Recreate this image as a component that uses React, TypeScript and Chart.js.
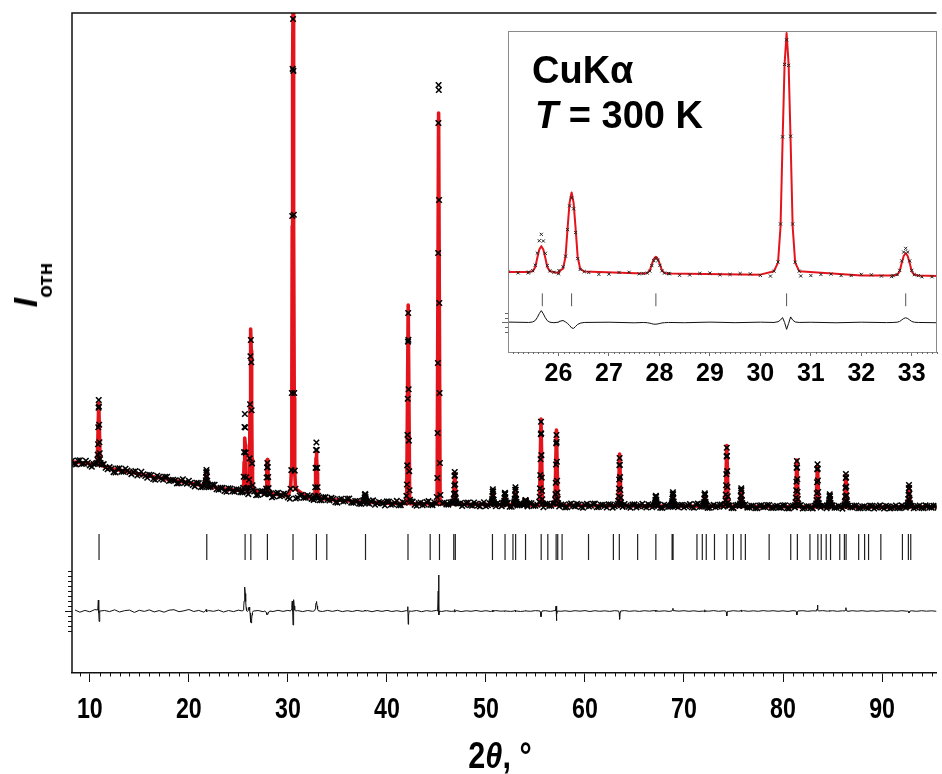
import React, { useEffect, useRef } from "react";
import { Chart, registerables } from "chart.js";

Chart.register(...registerables);

const SANS = "'Liberation Sans', Arial, Helvetica, sans-serif";

// ---------- axes ----------
const X_MIN = 8.2;
const X_MAX = 95.5;
const X_TICKS = [10, 20, 30, 40, 50, 60, 70, 80, 90];
const Y_MIN = 0;
const Y_MAX = 6600;
const INSET_X_MIN = 25;
const INSET_X_MAX = 33.5;
const INSET_TICKS = [26, 27, 28, 29, 30, 31, 32, 33];
const INSET_Y_MIN = 200;
const INSET_Y_MAX = 6720;

// ---------- observed background, two interleaved scans ----------
// OBS_BG at 2θ = 8.2 + 0.4·i, OBS_BG_MID at 2θ = 8.4 + 0.4·i
const OBS_STEP = 0.4;
const OBS_START = 8.2;
const OBS_BG = [
  2122, 2086, 2127, 2093, 2102, 2062, 2094, 2059, 2089, 2037,
  2045, 2005, 2047, 2013, 2024, 1989, 2020, 1987, 1988, 1953,
  1980, 1932, 1961, 1933, 1962, 1926, 1926, 1899, 1938, 1894,
  1901, 1866, 1899, 1861, 1879, 1860, 1882, 1832, 1851, 1813,
  1844, 1814, 1835, 1806, 1807, 1778, 1815, 1781, 1820, 1781,
  1788, 1765, 1802, 1775, 1788, 1742, 1777, 1753, 1782, 1752,
  1768, 1731, 1754, 1728, 1759, 1725, 1743, 1704, 1743, 1720,
  1745, 1703, 1720, 1691, 1717, 1694, 1726, 1697, 1703, 1675,
  1714, 1687, 1721, 1679, 1703, 1693, 1714, 1673, 1705, 1685,
  1719, 1679, 1696, 1674, 1705, 1684, 1710, 1667, 1698, 1684,
  1705, 1672, 1691, 1666, 1708, 1678, 1696, 1668, 1685, 1672,
  1703, 1663, 1689, 1678, 1695, 1666, 1698, 1672, 1685, 1658,
  1691, 1673, 1699, 1665, 1680, 1659, 1695, 1666, 1685, 1653,
  1691, 1673, 1694, 1660, 1681, 1655, 1685, 1667, 1690, 1661,
  1675, 1652, 1686, 1668, 1692, 1655, 1679, 1662, 1686, 1651,
  1675, 1663, 1688, 1657, 1681, 1667, 1689, 1652, 1694, 1663,
  1677, 1653, 1681, 1666, 1685, 1655, 1673, 1649, 1681, 1661,
  1685, 1656, 1672, 1649, 1677, 1660, 1680, 1651, 1671, 1654,
  1678, 1646, 1672, 1659, 1680, 1650, 1667, 1646, 1674, 1655,
  1670, 1647, 1678, 1653, 1664, 1644, 1672, 1655, 1675, 1649,
  1667, 1647, 1671, 1656, 1676, 1645, 1666, 1651, 1675, 1649,
  1664, 1644, 1671, 1656, 1675, 1648, 1670, 1652, 1674,
];
const OBS_MID_START = 8.4;
const OBS_BG_MID = [
  2091, 2125, 2091, 2122, 2076, 2089, 2051, 2084, 2053, 2059,
  2009, 2045, 2014, 2042, 2008, 2011, 1975, 2013, 1970, 1983,
  1940, 1972, 1942, 1961, 1920, 1932, 1896, 1925, 1904, 1923,
  1880, 1901, 1858, 1879, 1858, 1884, 1837, 1852, 1820, 1848,
  1817, 1838, 1807, 1829, 1789, 1804, 1777, 1816, 1787, 1796,
  1758, 1797, 1769, 1794, 1756, 1771, 1745, 1775, 1753, 1778,
  1741, 1757, 1727, 1757, 1733, 1751, 1708, 1735, 1715, 1742,
  1704, 1720, 1694, 1726, 1701, 1717, 1683, 1710, 1696, 1716,
  1682, 1703, 1677, 1710, 1688, 1715, 1682, 1698, 1677, 1710,
  1683, 1705, 1671, 1699, 1685, 1706, 1676, 1692, 1670, 1702,
  1679, 1705, 1675, 1691, 1668, 1696, 1680, 1701, 1669, 1689,
  1663, 1696, 1675, 1691, 1664, 1700, 1671, 1683, 1661, 1691,
  1671, 1694, 1664, 1684, 1656, 1687, 1671, 1691, 1660, 1681,
  1665, 1693, 1657, 1683, 1670, 1688, 1654, 1678, 1660, 1690,
  1664, 1684, 1656, 1678, 1666, 1688, 1657, 1675, 1652, 1683,
  1661, 1686, 1666, 1680, 1655, 1677, 1658, 1688, 1663, 1680,
  1651, 1673, 1658, 1683, 1664, 1678, 1651, 1676, 1659, 1680,
  1654, 1671, 1647, 1675, 1659, 1680, 1651, 1667, 1654, 1676,
  1648, 1670, 1656, 1676, 1645, 1667, 1651, 1673, 1657, 1676,
  1648, 1667, 1652, 1671, 1644, 1669, 1657, 1673, 1648, 1665,
  1652, 1674, 1645, 1667, 1655, 1672, 1646, 1664, 1651, 1676,
  1654, 1670, 1648, 1668, 1651, 1676, 1656, 1672, 1653,
];

// ---------- calculated background (2θ = 8 + 2·i) ----------
const CALC_START = 8;
const CALC_STEP = 2;
const CALC_BG = [
  2115, 2092, 2048, 2010, 1970, 1935, 1900, 1865, 1835, 1802,
  1786, 1771, 1753, 1736, 1722, 1707, 1698, 1695, 1693, 1690,
  1688, 1685, 1682, 1680, 1678, 1676, 1675, 1673, 1672, 1671,
  1670, 1670, 1668, 1667, 1666, 1664, 1663, 1662, 1661, 1660,
  1660, 1660, 1661, 1662, 1662,
];

// ---------- peaks shown in the inset (finely sampled) ----------
const FINE_POS = [25.66, 26.26, 27.93, 30.52, 32.88];
const FINE_OFFSETS = [-0.25, -0.17, -0.12, -0.08, -0.04, 0, 0.04, 0.08, 0.12, 0.17, 0.25];
const FINE_CALC = [
  [1823, 1842, 1922, 2109, 2280, 2350, 2280, 2109, 1922, 1842, 1823],
  [1834, 1892, 2136, 2707, 3228, 3440, 3228, 2707, 2136, 1892, 1834],
  [1795, 1807, 1859, 1980, 2090, 2135, 2090, 1980, 1859, 1807, 1795],
  [1842, 2014, 2750, 4470, 6041, 6680, 6041, 4470, 2750, 2014, 1842],
  [1752, 1768, 1838, 2001, 2150, 2210, 2150, 2001, 1838, 1768, 1752],
];
const FINE_OBS = [
  [1823, 1852, 1962, 2209, 2460, 2590, 2455, 2204, 1957, 1847, 1818],
  [1854, 1932, 2146, 2687, 3168, 3330, 3108, 2627, 2096, 1877, 1834],
  [1795, 1802, 1844, 1955, 2055, 2100, 2060, 1960, 1849, 1802, 1795],
  [1842, 2029, 2800, 4570, 6041, 6540, 6021, 4583, 2800, 2024, 1842],
  [1752, 1773, 1858, 2051, 2230, 2305, 2230, 2051, 1858, 1773, 1752],
];

// ---------- other peaks (main plot only) ----------
const COARSE_POS = [
  10.9, 21.78, 37.8, 42.15, 45.22, 46.85, 50.7, 51.92, 52.98, 54.0, 55.56, 57.12,
  63.5, 67.16, 68.88, 72.1, 74.32, 75.78, 81.4, 83.48, 84.72, 86.35, 92.72,
];
const COARSE_OBS_OFFSETS = [-0.18, -0.13, -0.1, -0.07, -0.045, -0.02, 0, 0.02, 0.045, 0.07, 0.1, 0.13, 0.18];
const COARSE_OBS = [
  [2100, 2132, 2184, 2288, 2457, 2652, 2730, 2665, 2483, 2308, 2197, 2139, 2100],
  [1876, 1886, 1902, 1928, 1958, 2006, 2030, 2008, 1966, 1923, 1897, 1881, 1873],
  [1710, 1715, 1721, 1734, 1756, 1780, 1790, 1782, 1759, 1737, 1723, 1715, 1710],
  [1771, 1885, 2076, 2381, 2743, 3314, 3600, 3333, 2838, 2324, 2019, 1828, 1733],
  [1760, 1950, 2400, 3100, 4200, 5500, 5880, 5830, 4730, 3700, 2800, 2100, 1780],
  [1699, 1715, 1740, 1791, 1875, 1971, 2010, 1977, 1887, 1801, 1747, 1718, 1699],
  [1690, 1699, 1715, 1739, 1768, 1814, 1837, 1816, 1776, 1734, 1710, 1695, 1687],
  [1687, 1693, 1702, 1721, 1753, 1789, 1803, 1791, 1757, 1725, 1705, 1694, 1687],
  [1688, 1699, 1716, 1744, 1778, 1831, 1857, 1832, 1787, 1739, 1711, 1693, 1685],
  [1682, 1684, 1688, 1696, 1709, 1724, 1730, 1725, 1711, 1698, 1689, 1685, 1682],
  [1712, 1762, 1846, 1979, 2138, 2388, 2513, 2396, 2179, 1954, 1821, 1737, 1696],
  [1698, 1733, 1789, 1902, 2085, 2296, 2380, 2310, 2113, 1923, 1804, 1740, 1698],
  [1692, 1721, 1768, 1845, 1935, 2078, 2150, 2083, 1959, 1830, 1754, 1706, 1683],
  [1674, 1679, 1687, 1704, 1730, 1761, 1773, 1763, 1734, 1707, 1689, 1680, 1674],
  [1675, 1684, 1697, 1719, 1745, 1786, 1807, 1788, 1752, 1715, 1693, 1680, 1673],
  [1672, 1678, 1689, 1709, 1743, 1782, 1797, 1784, 1748, 1713, 1691, 1680, 1672],
  [1690, 1726, 1784, 1878, 1989, 2165, 2253, 2171, 2019, 1860, 1767, 1708, 1679],
  [1671, 1680, 1695, 1724, 1771, 1825, 1847, 1829, 1778, 1729, 1699, 1682, 1671],
  [1680, 1708, 1754, 1827, 1914, 2051, 2120, 2056, 1937, 1813, 1740, 1694, 1671],
  [1674, 1695, 1729, 1797, 1908, 2036, 2087, 2044, 1925, 1810, 1738, 1699, 1674],
  [1666, 1674, 1686, 1706, 1730, 1768, 1787, 1769, 1737, 1703, 1682, 1670, 1664],
  [1670, 1686, 1713, 1766, 1851, 1950, 1990, 1957, 1865, 1776, 1719, 1690, 1670],
  [1670, 1683, 1705, 1740, 1781, 1847, 1880, 1849, 1792, 1733, 1698, 1676, 1665],
];
const COARSE_CALC_OFFSETS = [-0.15, 0, 0.15];
const COARSE_CALC = [
  [2085, 2700, 2080], [1870, 2020, 1868], [1708, 1785, 1707], [1696, 3680, 1694],
  [1693, 5600, 1691], [1690, 2000, 1689], [1684, 1832, 1684], [1683, 1798, 1683],
  [1681, 1850, 1681], [1680, 1728, 1680], [1679, 2540, 1679], [1677, 2430, 1677],
  [1673, 2190, 1673], [1671, 1770, 1671], [1670, 1800, 1670], [1668, 1792, 1668],
  [1667, 2275, 1667], [1666, 1842, 1666], [1662, 2130, 1662], [1661, 2075, 1661],
  [1661, 1782, 1661], [1660, 1985, 1660], [1661, 1875, 1661],
];

// ---------- difference curve ----------
const DIFF_START = 8.5;
const DIFF_STEP = 0.5;
const DIFF_BG = [
  10, -12, 6, -8, 14, -15, 5, -6, 12, -10,
  3, 9, -14, 7, -4, 11, -9, 4, -12, 8,
  13, -7, 2, 15, -5, 6, -11, 4, -3, 9,
  -10, 5, -6, 8, -4, 6, -9, 5, -7, 3,
  -5, 7, -4, 6, -8, 4, -6, 5, -3, 4,
  -5, 6, -4, 7, -6, 3, -5, 6, -3, 4,
  -7, 5, -4, 6, -5, 3, -6, 4, -3, 5,
  -7, 4, -3, 6, -5, 3, -4, 5, -6, 2,
  -3, 5, -4, 3, -5, 4, -2, 5, -4, 3,
  -5, 2, -3, 4, -6, 3, -4, 5, -3, 2,
  -4, 3, -2, 4, -5, 3, -3, 2, -4, 3,
  -2, 4, -3, 2, -4, 3, -2, 4, -3, 2,
  -4, 3, -2, 3, -3, 2, -4, 3, -2, 4,
  -3, 2, -4, 3, -2, 3, -3, 2, -3, 4,
  -2, 3, -3, 2, -4, 3, -2, 3, -3, 2,
  -3, 4, -2, 3, -3, 2, -4, 3, -2, 3,
  -3, 2, -3, 3, -2, 2, -3, 3, -2, 2,
  -3, 3, -2, 2, -3,
];
const COARSE_DIFF_OFFSETS = [-0.1, -0.04, 0, 0.04, 0.1];
const COARSE_DIFF = [
  [10, 110, -20, -105, 0], [0, 15, -10, 5, 0], [0, 5, 10, 0, 0], [0, 43, -133, -40, 0],
  [0, 200, 360, -40, 0], [0, -10, 15, -5, 0], [0, 5, -8, 4, 0], [0, -5, 6, 0, 0],
  [0, 8, -10, 5, 0], [0, 0, 5, 0, 0], [0, -20, -57, -10, 0], [0, 50, -97, -30, 0],
  [0, -20, -83, -15, 0], [0, 5, -5, 3, 0], [0, 10, 27, 5, 0], [0, -8, 12, -5, 0],
  [0, -15, -50, -10, 0], [0, 5, 8, -4, 0], [0, -10, -40, -5, 0], [0, 20, 60, 10, 0],
  [0, -4, 6, 0, 0], [0, 10, 33, 5, 0], [0, -5, -20, -5, 0],
];
const DIFF_OFFSET_MAIN = 620;
const DIFF_OFFSET_INSET = 800;

// ---------- Bragg reflections ----------
const BRAGG = [
  10.93, 21.81, 25.68, 26.26, 27.93, 30.52, 32.88, 33.93, 37.84, 42.13, 44.37, 45.31,
  46.75, 46.91, 50.66, 51.93, 52.73, 53.0, 54.0, 55.58, 56.25, 57.09, 57.25, 57.69,
  60.36, 62.87, 63.47, 65.32, 67.16, 68.8, 68.9, 71.31, 71.85, 72.25, 73.08, 74.33,
  74.99, 75.76, 76.2, 78.6, 80.78, 81.45, 82.72, 83.52, 83.86, 84.36, 84.8, 85.73,
  86.2, 86.37, 87.64, 88.24, 88.64, 89.88, 92.06, 92.66, 92.9,
];
const BRAGG_LOW = 1130;
const BRAGG_HIGH = 1390;

// ---------- assembling ----------
type P = { x: number; y: number | null };
const FINE_HALF = 0.26;
const COARSE_HALF = 0.19;
const COARSE_DIFF_HALF = 0.11;

function outside(x: number, fineHalf: number, coarseHalf: number) {
  return FINE_POS.every((c) => Math.abs(x - c) >= fineHalf) && COARSE_POS.every((c) => Math.abs(x - c) >= coarseHalf);
}
const byX = (a: P, b: P) => a.x - b.x;

function buildObs(): P[] {
  const pts: P[] = [];
  const addScan = (start: number, values: number[]) =>
    values.forEach((v, i) => {
      const x = +(start + i * OBS_STEP).toFixed(3);
      if (outside(x, FINE_HALF, COARSE_HALF)) pts.push({ x, y: v });
    });
  addScan(OBS_START, OBS_BG);
  addScan(OBS_MID_START, OBS_BG_MID);
  FINE_POS.forEach((c, k) => FINE_OFFSETS.forEach((o, j) => pts.push({ x: c + o, y: FINE_OBS[k][j] })));
  COARSE_POS.forEach((c, k) => COARSE_OBS_OFFSETS.forEach((o, j) => pts.push({ x: c + o, y: COARSE_OBS[k][j] })));
  return pts.sort(byX);
}
function buildCalc(): P[] {
  const pts: P[] = [];
  CALC_BG.forEach((v, i) => {
    const x = CALC_START + i * CALC_STEP;
    if (outside(x, FINE_HALF, COARSE_HALF)) pts.push({ x, y: v });
  });
  FINE_POS.forEach((c, k) => FINE_OFFSETS.forEach((o, j) => pts.push({ x: c + o, y: FINE_CALC[k][j] })));
  COARSE_POS.forEach((c, k) => COARSE_CALC_OFFSETS.forEach((o, j) => pts.push({ x: c + o, y: COARSE_CALC[k][j] })));
  return pts.sort(byX);
}
function buildDiff(offset: number): P[] {
  const pts: P[] = [];
  DIFF_BG.forEach((v, i) => {
    const x = DIFF_START + i * DIFF_STEP;
    if (outside(x, FINE_HALF, COARSE_DIFF_HALF)) pts.push({ x, y: v + offset });
  });
  FINE_POS.forEach((c, k) =>
    FINE_OFFSETS.forEach((o, j) => pts.push({ x: c + o, y: FINE_OBS[k][j] - FINE_CALC[k][j] + offset }))
  );
  COARSE_POS.forEach((c, k) =>
    COARSE_DIFF_OFFSETS.forEach((o, j) => pts.push({ x: c + o, y: COARSE_DIFF[k][j] + offset }))
  );
  return pts.sort(byX);
}
function buildBragg(): P[] {
  const pts: P[] = [];
  BRAGG.forEach((b) => {
    pts.push({ x: b, y: BRAGG_LOW }, { x: b, y: BRAGG_HIGH }, { x: b, y: null });
  });
  return pts;
}

// ---------- plugins ----------
const mainDecor = {
  id: "mainDecor",
  afterDraw(chart: any) {
    const { ctx, chartArea: a } = chart;
    const xs = chart.scales.x;
    const ys = chart.scales.y;
    ctx.save();
    ctx.strokeStyle = "#111";
    ctx.lineWidth = 1.5;
    ctx.beginPath();
    ctx.moveTo(a.left, a.bottom);
    ctx.lineTo(a.left, a.top);
    ctx.lineTo(a.right, a.top);
    ctx.stroke();
    ctx.lineWidth = 1;
    ctx.beginPath();
    for (let v = Math.ceil(X_MIN); v <= X_MAX; v += 1) {
      if (v % 10 === 0) continue;
      const px = Math.round(xs.getPixelForValue(v)) + 0.5;
      ctx.moveTo(px, a.bottom);
      ctx.lineTo(px, a.bottom + 3.5);
    }
    for (let k = -4; k <= 8; k++) {
      const py = Math.round(ys.getPixelForValue(DIFF_OFFSET_MAIN + k * 50)) + 0.5;
      ctx.moveTo(a.left - (k === 0 ? 7 : 4), py);
      ctx.lineTo(a.left, py);
    }
    ctx.stroke();
    // condensed bold tick labels
    ctx.fillStyle = "#000";
    ctx.font = `bold 29px ${SANS}`;
    ctx.textAlign = "center";
    ctx.textBaseline = "alphabetic";
    X_TICKS.forEach((v) => {
      const px = xs.getPixelForValue(v);
      ctx.save();
      ctx.translate(px, a.bottom + 45);
      ctx.scale(0.8, 1);
      ctx.fillText(String(v), 0, 0);
      ctx.restore();
    });
    ctx.restore();
  },
};

const insetDecor = {
  id: "insetDecor",
  beforeDraw(chart: any) {
    const { ctx, width, height } = chart;
    ctx.save();
    ctx.fillStyle = "#fff";
    ctx.fillRect(0, 0, width, height);
    ctx.restore();
  },
  afterDraw(chart: any) {
    const { ctx, chartArea: a } = chart;
    const xs = chart.scales.x;
    const ys = chart.scales.y;
    ctx.save();
    ctx.strokeStyle = "#8a8a8a";
    ctx.lineWidth = 1;
    ctx.strokeRect(a.left + 0.5, a.top + 0.5, a.right - a.left - 1, a.bottom - a.top);
    ctx.strokeStyle = "#666";
    ctx.beginPath();
    for (let i = Math.ceil(INSET_X_MIN * 10); i <= INSET_X_MAX * 10; i++) {
      if (i % 10 === 0) continue;
      const px = Math.round(xs.getPixelForValue(i / 10)) + 0.5;
      ctx.moveTo(px, a.bottom);
      ctx.lineTo(px, a.bottom + 2);
    }
    for (let k = -2; k <= 2; k++) {
      const py = Math.round(ys.getPixelForValue(DIFF_OFFSET_INSET + k * 100)) + 0.5;
      ctx.moveTo(a.left - (k === 0 ? 6 : 3), py);
      ctx.lineTo(a.left, py);
    }
    ctx.stroke();
    ctx.restore();
  },
};

function makeDatasets(inset: boolean) {
  return [
    {
      label: "Iobs",
      data: buildObs(),
      showLine: false,
      pointStyle: "crossRot",
      pointRadius: inset ? 2.2 : 3.9,
      pointBorderWidth: inset ? 1 : 1.6,
      pointBorderColor: inset ? "#222" : "#000",
      pointBackgroundColor: "#000",
      borderColor: "#000",
      pointHoverRadius: 0,
    },
    {
      label: "Icalc",
      data: buildCalc(),
      showLine: true,
      borderColor: "#e3141b",
      borderWidth: inset ? 2 : 3.6,
      borderJoinStyle: "round",
      pointRadius: 0,
      pointHoverRadius: 0,
      tension: 0,
    },
    {
      label: "Iobs - Icalc",
      data: buildDiff(inset ? DIFF_OFFSET_INSET : DIFF_OFFSET_MAIN),
      showLine: true,
      borderColor: "#111",
      borderWidth: 1,
      pointRadius: 0,
      pointHoverRadius: 0,
    },
    {
      label: "Bragg",
      data: buildBragg(),
      showLine: true,
      spanGaps: false,
      borderColor: inset ? "#555" : "#222",
      borderWidth: inset ? 1 : 1.2,
      pointRadius: 0,
      pointHoverRadius: 0,
    },
  ];
}

export default function App() {
  const mainRef = useRef<HTMLCanvasElement>(null);
  const insetRef = useRef<HTMLCanvasElement>(null);

  useEffect(() => {
    const main = new Chart(mainRef.current as HTMLCanvasElement, {
      type: "line",
      data: { datasets: makeDatasets(false) as any },
      options: {
        responsive: false,
        animation: false,
        events: [],
        devicePixelRatio: 1,
        layout: { padding: { left: 72, top: 13, right: 0, bottom: 0 } },
        plugins: { legend: { display: false }, tooltip: { enabled: false } },
        scales: {
          x: {
            type: "linear",
            min: X_MIN,
            max: X_MAX,
            afterBuildTicks: (s: any) => {
              s.ticks = X_TICKS.map((v) => ({ value: v }));
            },
            afterFit: (s: any) => {
              s.height = 101;
            },
            grid: { drawOnChartArea: false, drawTicks: true, tickLength: 9, color: "#111", lineWidth: 1 },
            border: { display: true, color: "#111", width: 1.5 },
            ticks: { display: false },
          },
          y: { type: "linear", min: Y_MIN, max: Y_MAX, display: false },
        },
      } as any,
      plugins: [mainDecor],
    });

    const inset = new Chart(insetRef.current as HTMLCanvasElement, {
      type: "line",
      data: { datasets: makeDatasets(true) as any },
      options: {
        responsive: false,
        animation: false,
        events: [],
        devicePixelRatio: 1,
        layout: { padding: { left: 8, top: 9, right: 5, bottom: 0 } },
        plugins: { legend: { display: false }, tooltip: { enabled: false } },
        scales: {
          x: {
            type: "linear",
            min: INSET_X_MIN,
            max: INSET_X_MAX,
            afterBuildTicks: (s: any) => {
              s.ticks = INSET_TICKS.map((v) => ({ value: v }));
            },
            afterFit: (s: any) => {
              s.height = 48;
            },
            grid: { drawOnChartArea: false, drawTicks: true, tickLength: 4, color: "#666", lineWidth: 1 },
            border: { display: false },
            ticks: {
              color: "#000",
              font: { family: SANS, size: 25, weight: "bold" },
              padding: 3,
              maxRotation: 0,
              autoSkip: false,
              callback: (v: any) => String(v),
            },
          },
          y: { type: "linear", min: INSET_Y_MIN, max: INSET_Y_MAX, display: false },
        },
      } as any,
      plugins: [insetDecor],
    });

    return () => {
      main.destroy();
      inset.destroy();
    };
  }, []);

  return (
    <div style={{ position: "absolute", left: 0, top: 0, width: 942, height: 774, background: "#fff", overflow: "hidden" }}>
      <canvas ref={mainRef} width={942} height={774} style={{ position: "absolute", left: 0, top: 0, width: 942, height: 774 }} />
      <canvas ref={insetRef} width={442} height={378} style={{ position: "absolute", left: 500, top: 22, width: 442, height: 378 }} />
      <div
        style={{
          position: "absolute",
          left: 532,
          top: 51,
          fontFamily: SANS,
          fontWeight: 700,
          fontSize: 38,
          lineHeight: 1,
          color: "#000",
          whiteSpace: "nowrap",
        }}
      >
        CuKα
      </div>
      <div
        style={{
          position: "absolute",
          left: 535,
          top: 96,
          fontFamily: SANS,
          fontWeight: 700,
          fontSize: 38,
          lineHeight: 1,
          color: "#000",
          whiteSpace: "nowrap",
        }}
      >
        <i>T</i> = 300 K
      </div>
      <div
        style={{
          position: "absolute",
          left: 400,
          width: 200,
          top: 738,
          textAlign: "center",
          fontFamily: SANS,
          fontWeight: 700,
          fontSize: 36,
          lineHeight: 1,
          color: "#000",
          whiteSpace: "nowrap",
          transform: "scaleX(0.85)",
        }}
      >
        2<i>θ</i>, °
      </div>
      <div
        style={{
          position: "absolute",
          left: 25,
          top: 285,
          transform: "translate(-50%, -50%) rotate(-90deg)",
          whiteSpace: "nowrap",
          fontFamily: SANS,
          fontWeight: 700,
          fontSize: 34,
          lineHeight: 1,
          color: "#000",
        }}
      >
        <i>I</i>
        <span style={{ fontSize: 21, position: "relative", top: 15, fontStyle: "normal" }}>отн</span>
      </div>
    </div>
  );
}
